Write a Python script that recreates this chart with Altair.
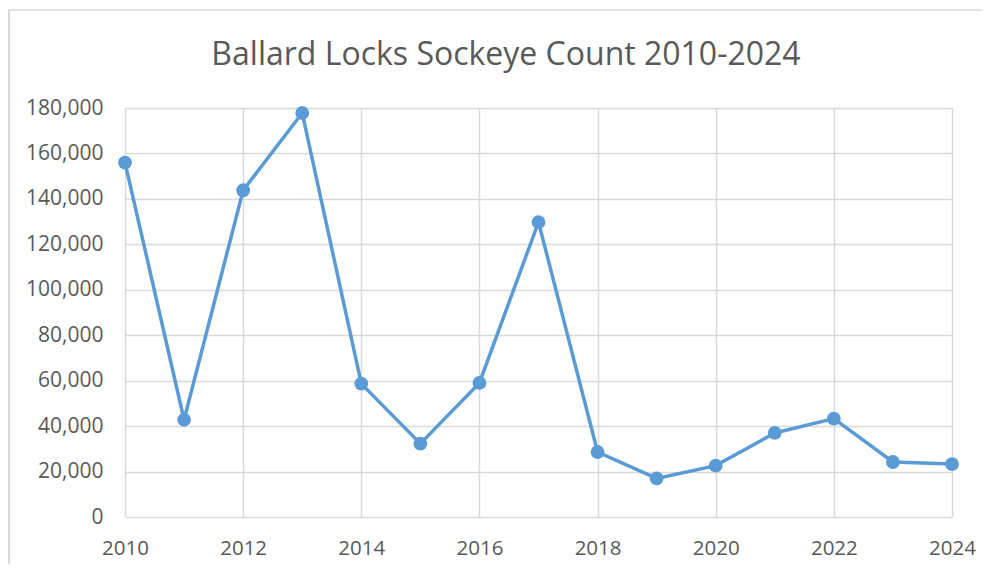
import altair as alt
import pandas as pd

years = [2010, 2011, 2012, 2013, 2014, 2015, 2016, 2017, 2018, 2019, 2020, 2021, 2022, 2023, 2024]
counts = [156000, 42800, 143800, 177800, 58700, 32300, 59000, 129800, 28600, 17000, 22600, 37000, 43300, 24200, 23300]
x_ticks = [2010, 2012, 2014, 2016, 2018, 2020, 2022, 2024]
y_ticks = [0, 20000, 40000, 60000, 80000, 100000, 120000, 140000, 160000, 180000]
title_text = "Ballard Locks Sockeye Count 2010-2024"

df = pd.DataFrame({"year": years, "count": counts})
one = pd.DataFrame({"t": [title_text]})

FONT = "Open Sans"
BLUE = "#5b9bd5"
GRID = "#d9d9d9"
TXT = "#595959"

x = alt.X("year:Q", scale=alt.Scale(domain=[2010, 2024], nice=False, zero=False),
          axis=alt.Axis(values=x_ticks, format="d", title=None, grid=True, gridColor=GRID,
                        gridWidth=1.5, domain=False, ticks=False, labelPadding=21,
                        labelFlush=False, labelOverlap=False,
                        labelFontSize=20.5, labelColor=TXT, labelFont=FONT))
y = alt.Y("count:Q", scale=alt.Scale(domain=[0, 180000], nice=False),
          axis=alt.Axis(values=y_ticks, format=",d", title=None, grid=True, gridColor=GRID,
                        gridWidth=1.5, domain=False, ticks=False, labelPadding=22,
                        labelFlush=False, labelOverlap=False,
                        labelFontSize=21, labelColor=TXT, labelFont=FONT))

line = alt.Chart(df).mark_line(color=BLUE, strokeWidth=3.5).encode(x=x, y=y)
pts = alt.Chart(df).mark_circle(color=BLUE, size=190, opacity=1).encode(x="year:Q", y="count:Q")

title = alt.Chart(one).mark_text(font=FONT, fontSize=32, color=TXT, align="center",
                                 baseline="alphabetic").encode(
    text="t:N", x=alt.value(381), y=alt.value(-43))

left_border = alt.Chart(one).mark_rule(color=GRID, strokeWidth=2).encode(
    x=alt.value(-116), y=alt.value(-98), y2=alt.value(460))
top_border = alt.Chart(one).mark_rule(color=GRID, strokeWidth=1.5).encode(
    x=alt.value(-117), x2=alt.value(860), y=alt.value(-98))

chart = alt.layer(left_border, top_border, line, pts, title).properties(
    width=827, height=409,
    autosize=alt.AutoSizeParams(type="none"),
    padding={"left": 117, "top": 100, "right": 30, "bottom": 47},
    background="white",
).configure_view(stroke=None)

chart.save("out.html", embed_options={"renderer": "svg", "actions": False})
